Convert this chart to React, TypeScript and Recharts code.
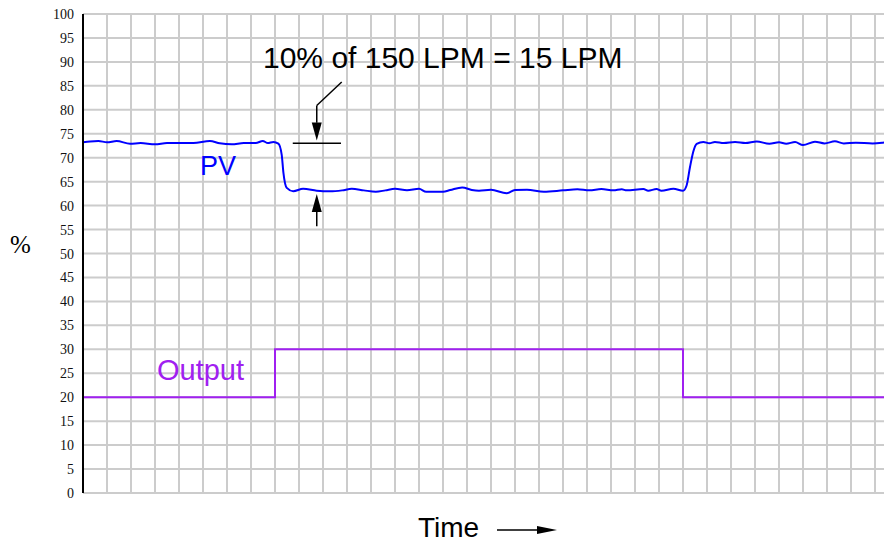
import React from "react";
import {
  LineChart,
  Line,
  XAxis,
  YAxis,
  CartesianGrid,
  ReferenceLine,
  ReferenceDot,
  Customized,
} from "recharts";

// Time in grid cells, PV in %
const pvTime = [
  0, 0.3, 0.64, 1.0, 1.4, 1.96, 2.4, 3.0, 3.5, 4.0, 4.6, 5.29, 5.7, 6.2, 6.7, 7.2, 7.49, 7.7, 7.93, 8.14,
  8.28, 8.35, 8.49, 8.76, 9.17, 9.74, 10.3, 10.8, 11.2, 11.7, 12.2, 12.6, 13.0, 13.5, 14.0, 14.3, 15.0,
  15.3, 15.8, 16.2, 16.5, 17.0, 17.65, 18.0, 18.5, 19.2, 20.0, 20.6, 21.1, 21.6, 22.1, 22.45, 22.65,
  23.35, 23.55, 23.9, 24.1, 24.6, 25.0, 25.15, 25.29, 25.43, 25.57, 25.85, 26.1, 26.33, 26.7, 27.17,
  27.6, 28.07, 28.6, 29.0, 29.3, 29.67, 30.0, 30.5, 30.9, 31.33, 31.7, 32.2, 32.9, 33.3, 33.7, 34.0,
];
const pvValue = [
  73.2, 73.4, 73.5, 73.2, 73.5, 72.9, 73.06, 72.8, 73.06, 73.06, 73.06, 73.5, 73.0, 72.8, 73.06, 73.06,
  73.5, 73.06, 73.3, 72.95, 70.6, 66.9, 63.7, 63.0, 63.5, 63.1, 62.97, 63.18, 63.5, 63.18, 62.9, 63.18,
  63.5, 63.18, 63.5, 62.9, 62.9, 63.25, 63.8, 63.25, 63.1, 63.3, 62.6, 63.25, 63.3, 62.9, 63.18, 63.4,
  63.18, 63.45, 63.18, 63.4, 63.18, 63.45, 63.1, 63.45, 63.1, 63.5, 63.1, 64.2, 68.0, 71.3, 72.9, 73.3,
  73.0, 73.3, 73.06, 73.27, 73.06, 73.4, 72.9, 73.2, 72.92, 73.27, 72.65, 73.34, 72.99, 73.41, 72.99,
  73.13, 72.99, 73.13, 73.41, 73.2,
];

const outTime = [0, 8, 8, 25, 25, 34];
const outValue = [20, 20, 30, 30, 20, 20];

const yTicks = [0, 5, 10, 15, 20, 25, 30, 35, 40, 45, 50, 55, 60, 65, 70, 75, 80, 85, 90, 95, 100];
const timeTicks = Array.from({ length: 35 }, (_, i) => i);

// Annotation anchors (data units)
const gapHigh = 73;
const gapLow = 63;
const arrowX = 9.74;

const pvData = pvTime.map((t, i) => ({ t, v: pvValue[i] }));
const outData = outTime.map((t, i) => ({ t, v: outValue[i] }));

const SANS = "Liberation Sans";
const SERIF = "Liberation Serif";

const ArrowDown = (props: any) => {
  const { cx, cy } = props;
  return <polygon points={`${cx},${cy} ${cx - 5},${cy - 18} ${cx + 5},${cy - 18}`} fill="#000" />;
};
const ArrowUp = (props: any) => {
  const { cx, cy } = props;
  return <polygon points={`${cx},${cy} ${cx - 5},${cy + 18} ${cx + 5},${cy + 18}`} fill="#000" />;
};

const YTick = (props: any) => {
  const { x, y, payload } = props;
  return (
    <text
      x={x}
      y={y}
      dy={5}
      textAnchor="end"
      style={{ fontFamily: SERIF, fontSize: 14, fill: "#111" }}
    >
      {payload.value}
    </text>
  );
};

const Annotations = () => (
  <g>
    <text x={255} y={60} style={{ fontFamily: SANS, fontSize: 30, fill: "#000" }}>
      10% of 150 LPM = 15 LPM
    </text>
    <text x={192} y={167} style={{ fontFamily: SANS, fontSize: 27, fill: "#0000ff" }}>
      PV
    </text>
    <text x={149} y={372} style={{ fontFamily: SANS, fontSize: 29, fill: "#a020f0" }}>
      Output
    </text>
    <text x={2} y={245} style={{ fontFamily: SERIF, fontSize: 25, fill: "#000" }}>
      %
    </text>
    <text x={410} y={529} style={{ fontFamily: SANS, fontSize: 28, fill: "#000" }}>
      Time
    </text>
    <line x1={489} y1={522} x2={534} y2={522} stroke="#000" strokeWidth={1.5} />
    <polygon points="549,522 529,518 529,526" fill="#000" />
  </g>
);

export default function App() {
  return (
    <div style={{ width: 884, height: 538, overflow: "hidden" }}>
      <LineChart
        width={900}
        height={538}
        margin={{ top: 6, right: 9, bottom: 53, left: 0 }}
      >
        <CartesianGrid stroke="#cccccc" strokeWidth={2} />
        <XAxis
          type="number"
          dataKey="t"
          domain={[0, 34]}
          ticks={timeTicks}
          interval={0}
          tick={{ fill: "transparent", fontSize: 1 }}
          tickLine={false}
          height={0}
          axisLine={{ stroke: "#000", strokeWidth: 2 }}
          allowDataOverflow
        />
        <YAxis
          type="number"
          domain={[0, 100]}
          ticks={yTicks}
          width={75}
          tickLine={false}
          tickSize={0}
          tickMargin={9}
          axisLine={{ stroke: "#000", strokeWidth: 2 }}
          tick={<YTick />}
          interval={0}
        />
        <Line
          data={outData}
          dataKey="v"
          type="linear"
          stroke="#a020f0"
          strokeWidth={2}
          dot={false}
          isAnimationActive={false}
        />
        <Line
          data={pvData}
          dataKey="v"
          type="monotone"
          stroke="#0000ff"
          strokeWidth={2}
          dot={false}
          isAnimationActive={false}
        />
        <ReferenceLine
          segment={[{ x: 8.74, y: gapHigh }, { x: 10.75, y: gapHigh }]}
          stroke="#000"
          strokeWidth={1.5}
          ifOverflow="visible"
        />
        <ReferenceLine
          segment={[{ x: 10.78, y: 85.8 }, { x: arrowX, y: 80.9 }]}
          stroke="#000"
          strokeWidth={1.5}
          ifOverflow="visible"
        />
        <ReferenceLine
          segment={[{ x: arrowX, y: 80.9 }, { x: arrowX, y: 77.3 }]}
          stroke="#000"
          strokeWidth={1.5}
          ifOverflow="visible"
        />
        <ReferenceDot x={arrowX} y={gapHigh + 0.6} r={0} shape={ArrowDown} ifOverflow="visible" />
        <ReferenceLine
          segment={[{ x: arrowX, y: 59.2 }, { x: arrowX, y: 55.7 }]}
          stroke="#000"
          strokeWidth={1.5}
          ifOverflow="visible"
        />
        <ReferenceDot x={arrowX} y={gapLow - 0.6} r={0} shape={ArrowUp} ifOverflow="visible" />
        <Customized component={Annotations} />
      </LineChart>
    </div>
  );
}
